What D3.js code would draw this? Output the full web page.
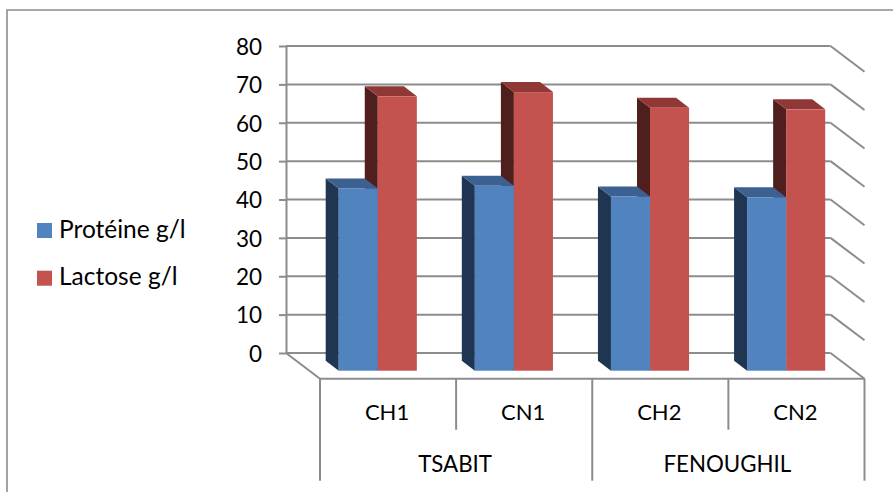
<!DOCTYPE html>
<html>
<head>
<meta charset="utf-8">
<script src="https://cdn.jsdelivr.net/npm/d3@7/dist/d3.min.js"></script>
<style>
html,body{margin:0;padding:0;background:#fff}
svg{display:block}
text{font-family:Lato,"Open Sans",sans-serif;fill:#000}
</style>
</head>
<body>
<svg id="chart" width="893" height="492"></svg>
<script>
// Milk composition by site and breed
const categories = ["CH1", "CN1", "CH2", "CN2"];
const groups = [
  { name: "TSABIT", span: 2 },
  { name: "FENOUGHIL", span: 2 }
];
const seriesNames = ["Protéine g/l", "Lactose g/l"];
const proteine = [47.5, 48.2, 45.4, 45.2];
const lactose = [71.5, 72.6, 68.5, 68.1];
const yTicks = [0, 10, 20, 30, 40, 50, 60, 70, 80];

const faces = [
  { front: "#5183bf", top: "#3c6191", side: "#1f3552" },
  { front: "#c4524f", top: "#8f3836", side: "#4f1f1d" }
];
const gridColor = "#8c8c8c";

const svg = d3.select("#chart");

// Oblique projection: the wall sits at the back, the category axis at the front of the floor
const wall = { left: 286, right: 830.5, top: 46, bottom: 353 };
const depth = { x: 34, y: 25.7 };
const barDepth = { x: 13, y: 10 };
const barFrontShift = { y: 17.7 };

const y = d3.scaleLinear().domain([0, 80]).range([wall.bottom, wall.top]);
const x = d3.scaleBand().domain(categories)
  .range([wall.left + depth.x, wall.right + depth.x]);
const inner = d3.scaleBand().domain(seriesNames)
  .range([18.7, x.bandwidth() - 39.3]);

// Outer frame of the chart area
svg.append("path")
  .attr("d", "M7,492V10H893")
  .attr("fill", "none").attr("stroke", gridColor).attr("stroke-width", 1.6);

// Horizontal wall lines and their slanted continuation on the right side
const grid = svg.append("g").attr("stroke", gridColor).attr("stroke-width", 2).attr("fill", "none");
grid.selectAll("line.h").data(yTicks).join("line").attr("class", "h")
  .attr("x1", wall.left).attr("x2", wall.right)
  .attr("y1", d => y(d)).attr("y2", d => y(d));
grid.selectAll("line.s").data(yTicks).join("line").attr("class", "s")
  .attr("x1", wall.right).attr("x2", wall.right + depth.x)
  .attr("y1", d => y(d)).attr("y2", d => y(d) + depth.y);

// Floor edges
grid.append("line")
  .attr("x1", wall.left).attr("y1", y(0))
  .attr("x2", wall.left + depth.x).attr("y2", y(0) + depth.y);
grid.append("line")
  .attr("x1", wall.left + depth.x).attr("x2", wall.right + depth.x)
  .attr("y1", y(0) + depth.y).attr("y2", y(0) + depth.y);

// Value axis
const axis = svg.append("g")
  .attr("transform", `translate(${wall.left},0)`)
  .call(d3.axisLeft(y).tickValues(yTicks).tickSize(7).tickSizeOuter(0).tickPadding(17));
axis.selectAll("path,line").attr("stroke", gridColor).attr("stroke-width", 2);
axis.selectAll("text").attr("font-size", 22.5).attr("dy", "0.37em")
  .style("font-family", "Lato,sans-serif").attr("fill", "#000");

// Three-faced columns; the rear series goes first so the nearer one overlaps its side face
const bars = svg.append("g");
const barData = categories.flatMap((c, i) => [
  { c, s: 1, v: lactose[i] },
  { c, s: 0, v: proteine[i] }
]);
const barGroups = bars.selectAll("g").data(barData).join("g");

const frontLeft = d => x(d.c) + inner(seriesNames[d.s]);
const frontBase = y(0) + barFrontShift.y;
const frontTop = d => y(d.v) + barFrontShift.y;
const dx = barDepth.x, dy = barDepth.y, w = inner.bandwidth();

barGroups.append("path").attr("fill", d => faces[d.s].side)
  .attr("d", d => {
    const l = frontLeft(d), t = frontTop(d);
    return `M${l},${t}L${l - dx},${t - dy}V${frontBase - dy}L${l},${frontBase}Z`;
  });
barGroups.append("path").attr("fill", d => faces[d.s].top)
  .attr("d", d => {
    const l = frontLeft(d), t = frontTop(d);
    return `M${l},${t}L${l - dx},${t - dy}H${l + w - dx}L${l + w},${t}Z`;
  });
barGroups.append("rect").attr("fill", d => faces[d.s].front)
  .attr("x", frontLeft).attr("y", frontTop)
  .attr("width", w).attr("height", d => frontBase - frontTop(d));

// Two-level category axis
const axisTop = y(0) + depth.y;
const levelOne = axisTop + 51;
const levelTwo = axisTop + 102;
const cat = svg.append("g");
cat.selectAll("line.c").data(categories.filter((c, i) => i % 2 === 1)).join("line")
  .attr("class", "c")
  .attr("x1", d => x(d)).attr("x2", d => x(d))
  .attr("y1", axisTop).attr("y2", levelOne);
let running = 0;
const groupSpans = groups.map(g => {
  const start = x(categories[running]);
  running += g.span;
  return { name: g.name, start, end: start + g.span * x.bandwidth() };
});
cat.selectAll("line.g").data([groupSpans[0].start, ...groupSpans.map(g => g.end)]).join("line")
  .attr("class", "g")
  .attr("x1", d => d).attr("x2", d => d)
  .attr("y1", axisTop).attr("y2", levelTwo);
cat.selectAll("line").attr("stroke", gridColor).attr("stroke-width", 2);

cat.selectAll("text.c").data(categories).join("text").attr("class", "c")
  .attr("x", d => x(d) + x.bandwidth() / 2 - 1).attr("y", axisTop + 41.3)
  .attr("text-anchor", "middle").attr("font-size", 22).text(d => d);
cat.selectAll("text.g").data(groupSpans).join("text").attr("class", "g")
  .attr("x", d => (d.start + d.end) / 2 - 1).attr("y", axisTop + 93.3)
  .attr("text-anchor", "middle").attr("font-size", 22.3).text(d => d.name);

// Legend
const legend = svg.append("g").selectAll("g").data(seriesNames).join("g")
  .attr("transform", (d, i) => `translate(37,${223 + i * 47.7})`);
legend.append("rect").attr("width", 15).attr("height", 15)
  .attr("fill", (d, i) => faces[i].front);
legend.append("text").attr("x", 22).attr("y", 14.7).attr("font-size", 24.5).text(d => d);
</script>
</body>
</html>
